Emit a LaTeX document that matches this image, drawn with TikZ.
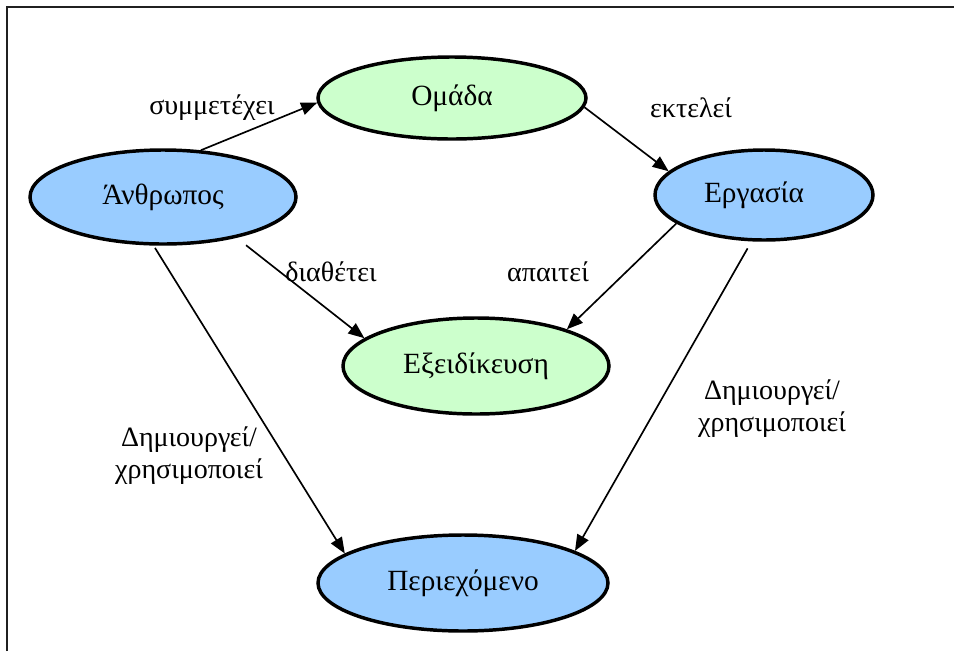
\documentclass[tikz,border=0pt]{standalone}
\usepackage{fontspec}
\setmainfont{Liberation Serif}
\usetikzlibrary{shapes.geometric,arrows.meta}
\definecolor{bluefill}{HTML}{99CCFF}
\definecolor{greenfill}{HTML}{CCFFCC}
\definecolor{framecol}{HTML}{202020}
\begin{document}
\begin{tikzpicture}[x=0.75pt,y=-0.75pt,
  ell/.style={ellipse, draw=black, line width=2.6pt, inner sep=0pt,
    font=\fontsize{22}{26}\selectfont},
  bluenode/.style={ell, fill=bluefill},
  greennode/.style={ell, fill=greenfill},
  conn/.style={line width=1.25pt, -{Triangle[length=12pt,width=9.5pt]}},
  lab/.style={font=\fontsize{21}{24}\selectfont, align=center, inner sep=0pt}]
\useasboundingbox (0,0) rectangle (954,651);
\fill[white] (0,0) rectangle (954,651);
\draw[framecol, line width=1.8pt] (7,651) -- (7,7) -- (954,7);

\node[bluenode, minimum width=266*0.75pt, minimum height=94*0.75pt] (anth) at (163,197) {Άνθρωπος};
\node[greennode, minimum width=268*0.75pt, minimum height=82*0.75pt] (oma) at (452,98) {Ομάδα};
\node[bluenode, minimum width=218*0.75pt, minimum height=90*0.75pt] (erg) at (764,195) {Εργασία\hspace*{15pt}};
\node[greennode, minimum width=266*0.75pt, minimum height=96*0.75pt] (exe) at (476,366) {Εξειδίκευση};
\node[bluenode, minimum width=290*0.75pt, minimum height=96*0.75pt] (per) at (463,583) {Περιεχόμενο};

\draw[conn] (anth.51) -- (oma.182);
\draw[conn] (oma.-4) -- (erg.166);
\draw[conn, shorten <=9pt] (anth.-29) -- (exe.166);
\draw[conn] (erg.-162) -- (exe.22);
\draw[conn, shorten <=2pt] (anth.-101) -- (per.166);
\draw[conn, shorten <=6pt] (erg.-105) -- (per.16);

\node[lab] (l1) at (212,108) {συμμετέχει};
\node[lab] (l2) at (691,108) {εκτελεί};
\node[lab] (l3) at (331,272) {διαθέτει};
\node[lab] (l4) at (548,272) {απαιτεί};
\node[lab] (l5) at (189,456) {Δημιουργεί/\\[0pt]χρησιμοποιεί};
\node[lab] (l6) at (772,409) {Δημιουργεί/\\[0pt]χρησιμοποιεί};
\end{tikzpicture}
\end{document}
